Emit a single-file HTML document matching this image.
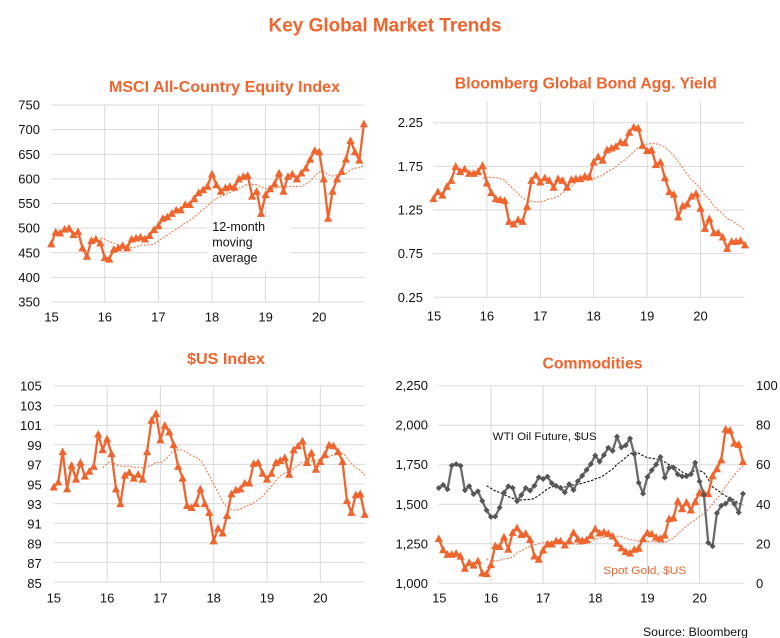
<!DOCTYPE html>
<html><head><meta charset="utf-8"><style>
html,body{margin:0;padding:0;background:#fff;}
svg{display:block;font-family:"Liberation Sans",Arial,sans-serif;}
.g{stroke:#d9d9d9;stroke-width:1;fill:none;}
.yl{font-size:13px;fill:#111;}
.yl2{font-size:13px;fill:#111;}
.t{font-weight:bold;fill:#F0642D;}
</style></head><body>
<svg id="s" width="780" height="638" viewBox="0 0 780 638" xmlns="http://www.w3.org/2000/svg">
<rect width="780" height="638" fill="#fff"/>
<text class="t" x="385" y="31.5" text-anchor="middle" font-size="19" textLength="233" lengthAdjust="spacingAndGlyphs">Key Global Market Trends</text>

<text class="t" x="224.5" y="91.8" text-anchor="middle" font-size="16" textLength="231" lengthAdjust="spacingAndGlyphs">MSCI All-Country Equity Index</text>
<text class="t" x="585.8" y="88.3" text-anchor="middle" font-size="16" textLength="262" lengthAdjust="spacingAndGlyphs">Bloomberg Global Bond Agg. Yield</text>
<text class="t" x="226" y="364" text-anchor="middle" font-size="16" textLength="78" lengthAdjust="spacingAndGlyphs">$US Index</text>
<text class="t" x="592.5" y="368.5" text-anchor="middle" font-size="16" textLength="100" lengthAdjust="spacingAndGlyphs">Commodities</text>

<g id="grid"></g>

<g class="yl" text-anchor="end">
<text x="40" y="109.6">750</text><text x="40" y="134.2">700</text><text x="40" y="158.9">650</text>
<text x="40" y="183.5">600</text><text x="40" y="208.1">550</text><text x="40" y="232.7">500</text>
<text x="40" y="257.4">450</text><text x="40" y="282">400</text><text x="40" y="306.6">350</text>
</g>
<g class="yl" text-anchor="middle">
<text x="51.5" y="321.5">15</text><text x="104.8" y="321.5">16</text><text x="158.4" y="321.5">17</text>
<text x="212" y="321.5">18</text><text x="265.6" y="321.5">19</text><text x="319.2" y="321.5">20</text>
</g>

<g class="yl2" text-anchor="end">
<text x="423" y="127.2">2.25</text><text x="423" y="170.9">1.75</text><text x="423" y="214.5">1.25</text>
<text x="423" y="258.2">0.75</text><text x="423" y="301.8">0.25</text>
</g>
<g class="yl" text-anchor="middle">
<text x="434" y="320.5">15</text><text x="486.9" y="320.5">16</text><text x="540.3" y="320.5">17</text>
<text x="593.7" y="320.5">18</text><text x="647.1" y="320.5">19</text><text x="700.5" y="320.5">20</text>
</g>

<g class="yl" text-anchor="end">
<text x="41.7" y="390.6">105</text><text x="41.7" y="410.3">103</text><text x="41.7" y="430.1">101</text>
<text x="41.7" y="449.8">99</text><text x="41.7" y="469.5">97</text><text x="41.7" y="489.3">95</text>
<text x="41.7" y="509">93</text><text x="41.7" y="528.7">91</text><text x="41.7" y="548.4">89</text>
<text x="41.7" y="568.2">87</text><text x="41.7" y="587.9">85</text>
</g>
<g class="yl" text-anchor="middle">
<text x="53.8" y="602.5">15</text><text x="107.1" y="602.5">16</text><text x="160.4" y="602.5">17</text>
<text x="213.7" y="602.5">18</text><text x="267" y="602.5">19</text><text x="320.3" y="602.5">20</text>
</g>

<g class="yl2" text-anchor="end">
<text x="428" y="390.2">2,250</text><text x="428" y="429.7">2,000</text><text x="428" y="469.2">1,750</text>
<text x="428" y="508.8">1,500</text><text x="428" y="548.3">1,250</text><text x="428" y="587.8">1,000</text>
</g>
<g class="yl2" text-anchor="start">
<text x="756" y="390.2">100</text><text x="756" y="429.7">80</text><text x="756" y="469.2">60</text>
<text x="756" y="508.8">40</text><text x="756" y="548.3">20</text><text x="756" y="587.8">0</text>
</g>
<g class="yl" text-anchor="middle">
<text x="439.3" y="602.5">15</text><text x="491" y="602.5">16</text><text x="543.1" y="602.5">17</text>
<text x="595.3" y="602.5">18</text><text x="647.4" y="602.5">19</text><text x="699.6" y="602.5">20</text>
</g>

<g id="data"></g>

<g font-size="12.5" fill="#111">
<text x="212.3" y="231">12-month</text>
<text x="212.3" y="246.5">moving</text>
<text x="212.3" y="262">average</text>
</g>
<text x="492.7" y="440" font-size="11" fill="#111" textLength="104" lengthAdjust="spacingAndGlyphs">WTI Oil Future, $US</text>
<text x="603.3" y="574" font-size="11" fill="#F0642D" textLength="83" lengthAdjust="spacingAndGlyphs">Spot Gold, $US</text>
<text x="643" y="636" font-size="12" fill="#111" textLength="105" lengthAdjust="spacingAndGlyphs">Source: Bloomberg</text>
</svg>
<script>
(function(){
var NS="http://www.w3.org/2000/svg";
var grid=document.getElementById("grid"), dg=document.getElementById("data");
function el(par,tag,a){var e=document.createElementNS(NS,tag);for(var k in a)e.setAttribute(k,a[k]);par.appendChild(e);return e;}
function hl(y,x1,x2){el(grid,"line",{x1:x1,x2:x2,y1:y,y2:y,"class":"g"});}
function vl(x,y1,y2){el(grid,"line",{x1:x,x2:x,y1:y1,y2:y2,"class":"g"});}
var i;
for(i=0;i<9;i++)hl(105+i*24.625,51.2,365);
[104.8,158.4,212,265.6,319.2].forEach(function(x){vl(x,105,302);});
for(i=0;i<5;i++)hl(122.7+i*43.65,433.5,744.5);
[486.9,540.3,593.7,647.1,700.5].forEach(function(x){vl(x,101,297.3);});
for(i=0;i<11;i++)hl(386+i*19.6,53.8,365);
[107.1,160.4,213.7,267,320.3].forEach(function(x){vl(x,386,582);});
for(i=0;i<6;i++)hl(385.7+i*39.52,438.8,744.5);
[491,543.1,595.3,647.4,699.6].forEach(function(x){vl(x,385.7,583.3);});
el(grid,"rect",{x:207,y:216,width:84,height:55,fill:"#fff"});

function ma(d){var r=[];for(var i=11;i<d.length;i++){var s=0;for(var j=i-11;j<=i;j++)s+=d[j];r.push([i,s/12]);}return r;}
function smooth(pts){
  var p="M"+pts[0][0].toFixed(2)+","+pts[0][1].toFixed(2);
  for(var i=0;i<pts.length-1;i++){
    var p0=pts[i-1]||pts[i],p1=pts[i],p2=pts[i+1],p3=pts[i+2]||p2;
    var c1x=p1[0]+(p2[0]-p0[0])/6,c1y=p1[1]+(p2[1]-p0[1])/6,c2x=p2[0]-(p3[0]-p1[0])/6,c2y=p2[1]-(p3[1]-p1[1])/6;
    p+="C"+c1x.toFixed(2)+","+c1y.toFixed(2)+" "+c2x.toFixed(2)+","+c2y.toFixed(2)+" "+p2[0].toFixed(2)+","+p2[1].toFixed(2);
  }
  return p;
}
var OR="#F0642D";
function series(d,X,Y,opt){
  var pts=d.map(function(v,i){return [X(i),Y(v)];});
  var p="M"+pts.map(function(q){return q[0].toFixed(2)+","+q[1].toFixed(2);}).join("L");
  el(dg,"path",{d:p,fill:"none",stroke:opt.color,"stroke-width":opt.w,"stroke-linejoin":"round"});
  var m="";
  pts.forEach(function(q){
    var x=q[0],y=q[1];
    if(opt.marker==="tri"){m+="M"+(x-4.1).toFixed(2)+","+(y+3.5).toFixed(2)+"L"+x.toFixed(2)+","+(y-4.2).toFixed(2)+"L"+(x+4.1).toFixed(2)+","+(y+3.5).toFixed(2)+"Z";}
    else {m+="M"+(x-3).toFixed(2)+","+y.toFixed(2)+"L"+x.toFixed(2)+","+(y-3).toFixed(2)+"L"+(x+3).toFixed(2)+","+y.toFixed(2)+"L"+x.toFixed(2)+","+(y+3).toFixed(2)+"Z";}
  });
  el(dg,"path",{d:m,fill:opt.mcolor||opt.color,stroke:"none"});
}
function maline(d,X,Y,color,dash,w){
  var pts=ma(d).map(function(q){return [X(q[0]),Y(q[1])];});
  el(dg,"path",{d:smooth(pts),fill:"none",stroke:color,"stroke-width":w,"stroke-dasharray":dash});
}

var msci=[468,492,490,498,500,487,493,460,443,475,478,470,
440,437,457,460,465,460,478,480,482,478,485,497,
505,520,523,530,537,537,548,548,560,572,578,585,
610,588,575,582,585,583,600,605,607,565,575,530,
568,580,590,612,575,605,610,600,612,622,640,658,
655,600,520,575,600,615,640,678,655,638,712];
var bond=[1.38,1.46,1.42,1.52,1.59,1.75,1.69,1.72,1.67,1.67,1.69,1.76,
1.56,1.45,1.38,1.37,1.36,1.12,1.09,1.14,1.12,1.29,1.59,1.65,
1.57,1.62,1.59,1.51,1.61,1.59,1.51,1.60,1.61,1.61,1.64,1.63,
1.80,1.86,1.82,1.94,1.96,1.98,2.03,2.02,2.14,2.20,2.19,1.99,
1.93,1.94,1.77,1.80,1.62,1.46,1.43,1.17,1.30,1.32,1.41,1.44,
1.27,1.04,1.15,0.99,0.99,0.94,0.81,0.89,0.89,0.90,0.85];
var usd=[94.7,95.2,98.3,94.5,96.9,95.5,97.2,95.8,96.3,96.8,100.1,98.5,
99.6,98.1,94.5,93.0,95.9,96.2,95.6,96.0,95.5,98.3,101.5,102.2,
99.5,101.0,100.3,99.0,96.8,95.6,92.8,92.6,93.0,94.5,93.0,92.1,
89.2,90.5,90.0,91.8,94.0,94.4,94.5,95.1,95.1,97.1,97.2,96.1,
95.5,96.1,97.2,97.4,97.7,96.0,98.5,98.9,99.4,97.2,98.2,96.5,
97.3,98.0,99.0,98.9,98.3,97.3,93.3,92.1,93.9,94.0,91.9];
var gold=[1283,1212,1183,1184,1190,1172,1095,1132,1115,1142,1065,1061,
1118,1238,1233,1293,1215,1322,1351,1309,1316,1277,1173,1152,
1211,1249,1249,1268,1268,1242,1269,1322,1280,1271,1275,1303,
1345,1318,1325,1316,1299,1253,1224,1201,1192,1215,1222,1282,
1321,1313,1292,1284,1305,1409,1414,1520,1472,1513,1464,1517,
1575,1570,1567,1680,1725,1781,1975,1968,1887,1879,1770];
var oil=[48.2,49.8,47.6,59.6,60.3,59.5,47.1,49.2,45.1,46.6,41.7,37.0,
33.6,33.8,38.3,45.9,49.1,48.3,41.6,44.7,48.2,46.9,49.4,53.7,
52.8,54.0,50.6,49.3,48.3,46.0,50.2,47.2,51.7,54.4,57.4,60.4,
64.7,61.6,64.9,68.6,67.0,74.2,68.8,69.8,73.3,65.3,50.9,45.4,
53.8,57.2,60.1,63.9,53.5,58.5,58.6,55.1,54.1,54.2,55.2,61.1,
51.6,44.8,20.5,18.8,35.5,39.3,40.3,42.6,40.2,35.8,45.3];

var X1=function(i){return 51.2+i*53.6/12;}, Y1=function(v){return 105+(750-v)*0.4925;};
maline(msci,X1,Y1,"#F07A4A","2,1.5",1.1);
series(msci,X1,Y1,{color:OR,w:2.3,marker:"tri"});
var X2=function(i){return 433.5+i*53.4/12;}, Y2=function(v){return 122.7+(2.25-v)*87.3;};
maline(bond,X2,Y2,"#F07A4A","2,1.5",1.1);
series(bond,X2,Y2,{color:OR,w:2.3,marker:"tri"});
var X3=function(i){return 53.8+i*53.3/12;}, Y3=function(v){return 386+(105-v)*9.8;};
maline(usd,X3,Y3,"#F07A4A","2,1.5",1.1);
series(usd,X3,Y3,{color:OR,w:2.3,marker:"tri"});
var X4=function(i){return 438.8+i*52.15/12;}, Y4l=function(v){return 385.7+(2250-v)*0.15808;}, Y4r=function(v){return 385.7+(100-v)*1.976;};
maline(gold,X4,Y4l,"#F07A4A","2,1.5",1.1);
maline(oil,X4,Y4r,"#111","2.5,1.5",1.1);
series(gold,X4,Y4l,{color:OR,w:2.3,marker:"tri"});
series(oil,X4,Y4r,{color:"#6b6b6b",w:2.3,marker:"dia",mcolor:"#555"});
})();
</script>
</body></html>
